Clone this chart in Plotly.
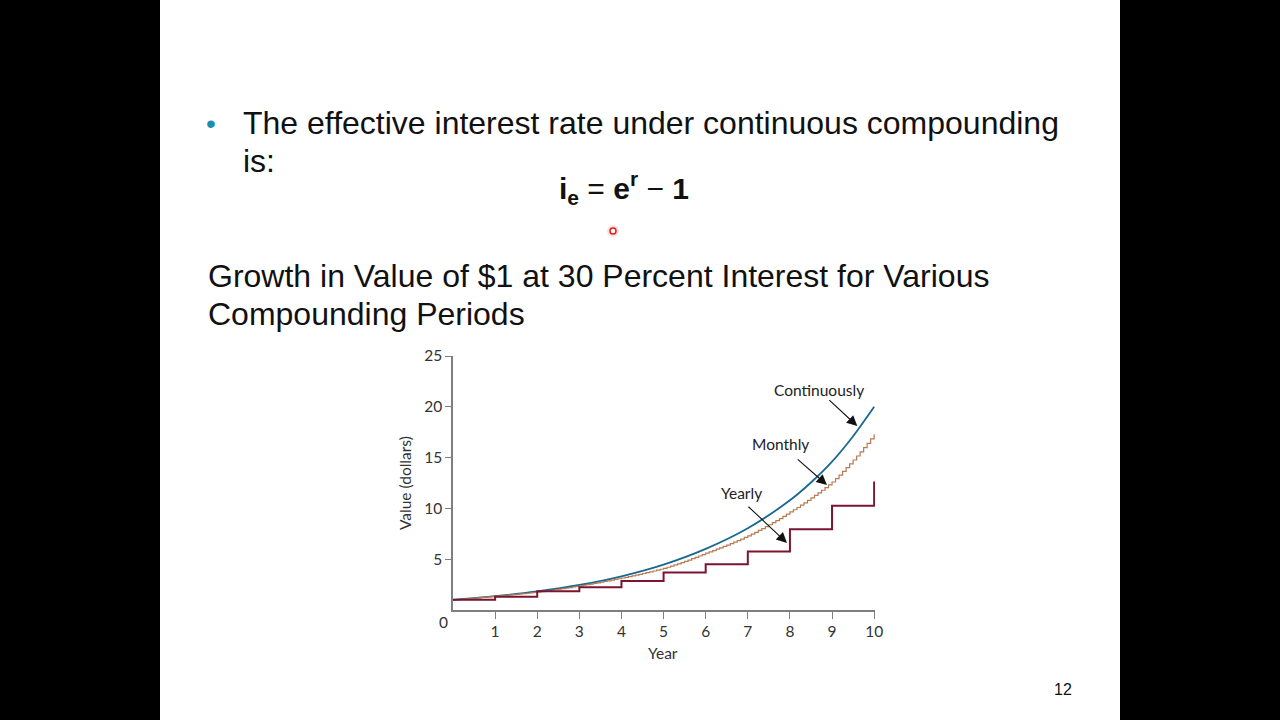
import plotly.graph_objects as go

# ---------------- data ----------------
cont_years = [0, 1, 2, 3, 4, 5, 6, 7, 8, 8.5, 9, 9.5, 10]
cont_values = [1.0, 1.36, 1.83, 2.46, 3.32, 4.47, 6.02, 8.05, 10.8, 12.55, 14.6, 17.1, 20.0]

monthly_values = [
    1.000, 1.026, 1.053, 1.080, 1.108, 1.137, 1.166, 1.197, 1.228, 1.260, 1.292, 1.326,
    1.360, 1.390, 1.420, 1.450, 1.482, 1.514, 1.547, 1.580, 1.615, 1.650, 1.686, 1.722,
    1.760, 1.805, 1.851, 1.898, 1.946, 1.996, 2.047, 2.099, 2.152, 2.207, 2.263, 2.321,
    2.380, 2.436, 2.494, 2.553, 2.613, 2.675, 2.738, 2.803, 2.869, 2.937, 3.006, 3.077,
    3.150, 3.220, 3.291, 3.364, 3.439, 3.515, 3.593, 3.673, 3.755, 3.838, 3.923, 4.010,
    4.100, 4.208, 4.319, 4.432, 4.549, 4.669, 4.792, 4.918, 5.047, 5.180, 5.317, 5.456,
    5.600, 5.725, 5.853, 5.984, 6.117, 6.254, 6.394, 6.537, 6.683, 6.832, 6.985, 7.141,
    7.300, 7.472, 7.648, 7.828, 8.012, 8.200, 8.393, 8.591, 8.793, 9.000, 9.211, 9.428,
    9.650, 9.867, 10.089, 10.315, 10.547, 10.784, 11.027, 11.275, 11.528, 11.787, 12.052, 12.323,
    12.600, 12.937, 13.283, 13.639, 14.004, 14.379, 14.764, 15.159, 15.565, 15.982, 16.409, 16.849,
    17.300,
]
monthly_times = [m / 12 for m in range(len(monthly_values))]

yearly_years = [0, 1, 2, 3, 4, 5, 6, 7, 8, 9, 10]
yearly_values = [1.0, 1.3, 1.85, 2.25, 2.85, 3.7, 4.5, 5.75, 7.95, 10.25, 12.65]

x_ticks = [1, 2, 3, 4, 5, 6, 7, 8, 9, 10]
y_ticks = [5, 10, 15, 20, 25]

# ---------------- layout geometry ----------------
L, R, T, B = 453, 875, 356, 610   # plot area in pixels
W, H = 1280, 720


def px(x):
    return (x - L) / (R - L)


def py(y):
    return (B - y) / (B - T)


CHART_FONT = "Lato"
SLIDE_FONT = "Liberation Sans"
C_CONT = "#17698f"
C_MONTH = "#b97a52"
C_YEAR = "#7b1430"
AXIS = "#7f7f7f"
CF = 15.5

fig = go.Figure()

fig.add_trace(go.Scatter(x=cont_years, y=cont_values, mode="lines",
                         line=dict(color=C_CONT, width=1.8, shape="spline", smoothing=0.8),
                         name="Continuously", hoverinfo="skip"))
fig.add_trace(go.Scatter(x=monthly_times, y=monthly_values, mode="lines",
                         line=dict(color=C_MONTH, width=1.2, shape="hv"),
                         name="Monthly", hoverinfo="skip"))
fig.add_trace(go.Scatter(x=yearly_years, y=yearly_values, mode="lines",
                         line=dict(color=C_YEAR, width=2, shape="hv"),
                         name="Yearly", hoverinfo="skip"))

ann = []
# slide texts
ann.append(dict(x=px(211), y=py(123), text="•", font=dict(family=SLIDE_FONT, size=28, color="#1d8fae"),
                xanchor="center", yanchor="middle"))
ann.append(dict(x=px(241), y=py(123), text="The effective interest rate under continuous compounding",
                font=dict(family=SLIDE_FONT, size=32, color="#111111"), xanchor="left", yanchor="middle"))
ann.append(dict(x=px(241), y=py(161), text="is:",
                font=dict(family=SLIDE_FONT, size=32, color="#111111"), xanchor="left", yanchor="middle"))
ann.append(dict(x=px(624), y=py(188),
                text="<b>i</b><sub><b>e</b></sub> = <b>e</b><sup><b>r</b></sup> − <b>1</b>",
                font=dict(family=SLIDE_FONT, size=30, color="#111111"), xanchor="center", yanchor="middle"))
ann.append(dict(x=px(206), y=py(276), text="Growth in Value of $1 at 30 Percent Interest for Various",
                font=dict(family=SLIDE_FONT, size=32, color="#111111"), xanchor="left", yanchor="middle"))
ann.append(dict(x=px(206), y=py(314), text="Compounding Periods",
                font=dict(family=SLIDE_FONT, size=32, color="#111111"), xanchor="left", yanchor="middle"))
ann.append(dict(x=px(1063), y=py(689), text="12",
                font=dict(family=SLIDE_FONT, size=16, color="#111111"), xanchor="center", yanchor="middle"))

# chart texts
ann.append(dict(x=px(443), y=py(622), text="0", font=dict(family=CHART_FONT, size=CF, color="#333333"),
                xanchor="center", yanchor="middle"))
ann.append(dict(x=px(405), y=py(483), text="Value (dollars)", textangle=-90,
                font=dict(family=CHART_FONT, size=CF, color="#333333"), xanchor="center", yanchor="middle"))
ann.append(dict(x=px(663), y=py(653), text="Year", font=dict(family=CHART_FONT, size=CF, color="#333333"),
                xanchor="center", yanchor="middle"))

# series labels
for txt, tx, ty in [("Continuously", 819, 390), ("Monthly", 780, 444), ("Yearly", 741, 493)]:
    ann.append(dict(x=px(tx), y=py(ty), text=txt, font=dict(family=CHART_FONT, size=CF, color="#222222"),
                    xanchor="center", yanchor="middle"))

# arrows (tip, tail) in data coordinates
for (x1, y1, x0, y0) in [(9.6, 18.1, 8.9, 20.8), (8.88, 12.3, 8.15, 14.96), (7.93, 6.6, 6.98, 10.3)]:
    ann.append(dict(x=x1, y=y1, ax=x0, ay=y0, xref="x", yref="y", axref="x", ayref="y",
                    text="", showarrow=True, arrowhead=2, arrowsize=1.9, arrowwidth=1.1,
                    arrowcolor="#111111"))

for a in ann:
    a.setdefault("xref", "paper")
    a.setdefault("yref", "paper")
    a.setdefault("showarrow", False)

shapes = [
    dict(type="rect", xref="paper", yref="paper", x0=px(0), x1=px(160), y0=py(W), y1=py(-10),
         fillcolor="black", line=dict(width=0), layer="below"),
    dict(type="rect", xref="paper", yref="paper", x0=px(1120), x1=px(1290), y0=py(W), y1=py(-10),
         fillcolor="black", line=dict(width=0), layer="below"),
    # laser pointer dot
    dict(type="circle", xref="paper", yref="paper", x0=px(607), x1=px(619), y0=py(237), y1=py(225),
         fillcolor="rgba(255,80,80,0.18)", line=dict(width=0)),
    dict(type="circle", xref="paper", yref="paper", x0=px(610), x1=px(616), y0=py(234), y1=py(228),
         fillcolor="rgba(255,255,255,0.9)", line=dict(width=1.5, color="#e02020")),
]

fig.update_layout(
    width=W, height=H,
    margin=dict(l=L, r=W - R, t=T, b=H - B, pad=0),
    paper_bgcolor="white", plot_bgcolor="white",
    showlegend=False,
    annotations=ann, shapes=shapes,
    xaxis=dict(range=[0, 10.02], tickvals=x_ticks, ticktext=[str(v) for v in x_ticks],
               showgrid=False, zeroline=False, showline=True, linecolor=AXIS, linewidth=1.5,
               ticks="outside", ticklen=7, tickwidth=1.2, tickcolor=AXIS,
               tickfont=dict(family=CHART_FONT, size=CF, color="#333333"), fixedrange=True),
    yaxis=dict(range=[0, 25], tickvals=y_ticks, ticktext=[str(v) for v in y_ticks],
               showgrid=False, zeroline=False, showline=True, linecolor=AXIS, linewidth=1.5,
               ticks="outside", ticklen=6, tickwidth=1.2, tickcolor=AXIS,
               tickfont=dict(family=CHART_FONT, size=CF, color="#333333"), fixedrange=True),
)

fig.write_html("out.html", config={"displayModeBar": False})
